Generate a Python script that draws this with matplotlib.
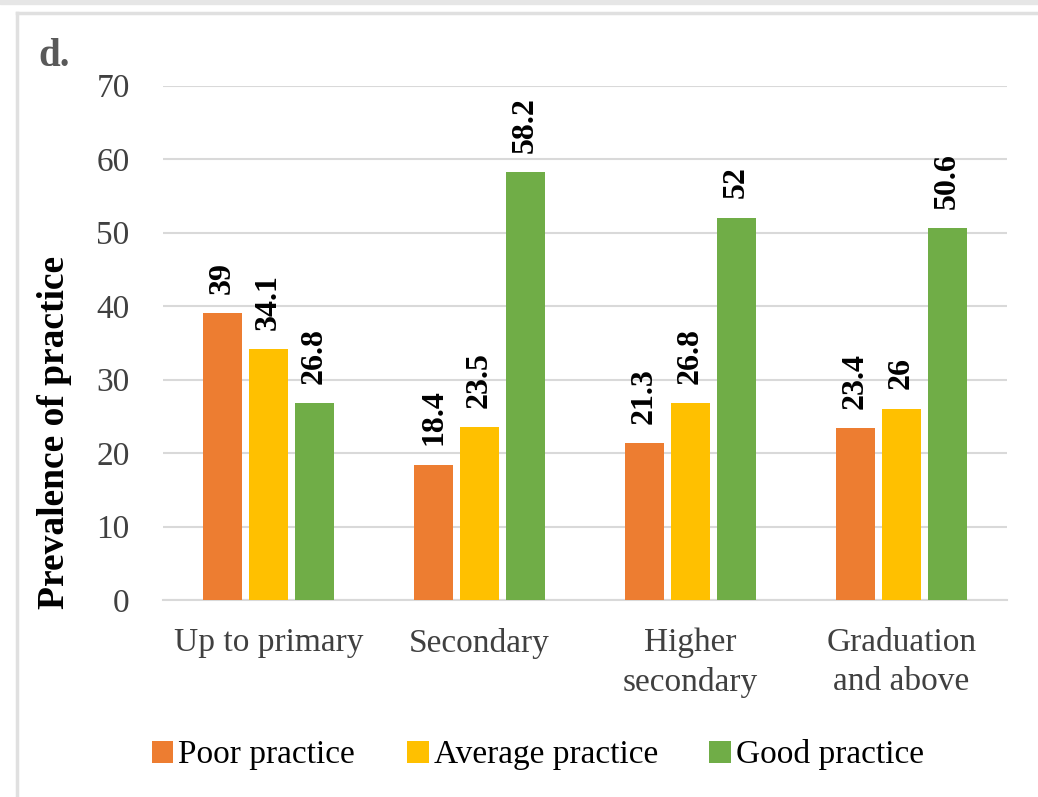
import matplotlib.pyplot as plt
from matplotlib.lines import Line2D
from matplotlib.patches import Rectangle
import numpy as np

categories = ['Up to primary', 'Secondary', 'Higher\nsecondary', 'Graduation\nand above']
poor = [39, 18.4, 21.3, 23.4]
average = [34.1, 23.5, 26.8, 26]
good = [26.8, 58.2, 52, 50.6]
labels = ['39', '18.4', '21.3', '23.4'], ['34.1', '23.5', '26.8', '26'], ['26.8', '58.2', '52', '50.6']
series_names = ['Poor practice', 'Average practice', 'Good practice']
colors = ['#ED7D31', '#FFC000', '#70AD47']

plt.rcParams['font.family'] = ['Liberation Serif', 'DejaVu Serif']

W, H = 1038, 797
fig = plt.figure(figsize=(W / 100, H / 100), dpi=100)
ax = fig.add_axes([163 / W, 1 - 600 / H, (1007 - 163) / W, (600 - 85.5) / H])

x = np.arange(len(categories))
bw = 0.185
step = 0.218
for i, (vals, txt) in enumerate(zip([poor, average, good], labels)):
    pos = x + (i - 1) * step
    bars = ax.bar(pos, vals, width=bw, color=colors[i], label=series_names[i], zorder=3)
    for b, t in zip(bars, txt):
        ax.annotate(t, (b.get_x() + b.get_width() / 2, b.get_height()),
                    xytext=(0, 14), textcoords='offset points',
                    rotation=90, ha='center', va='bottom',
                    fontsize=23, fontweight='bold', color='black')

ax.set_xlim(-0.5, 3.5)
ax.set_ylim(0, 70)
ax.set_yticks(range(0, 71, 10))
ax.set_xticks(x)
ax.set_xticklabels(categories, linespacing=1.35)
ax.yaxis.grid(True, color='#d9d9d9', linewidth=1.5, zorder=0)
for s in ['top', 'right', 'left']:
    ax.spines[s].set_visible(False)
ax.spines['bottom'].set_color('#d9d9d9')
ax.spines['bottom'].set_linewidth(1.5)
ax.tick_params(axis='y', length=0, pad=24, labelsize=24, labelcolor='#404040')
ax.tick_params(axis='x', length=0, pad=20, labelsize=24, labelcolor='#404040')

fig.text(55 / W, 1 - 432 / H, 'Prevalence of practice', rotation=90,
         ha='center', va='center', fontsize=27, fontweight='bold')
fig.text(38 / W, 1 - 57 / H, 'd.', ha='left', va='center',
         fontsize=28, fontweight='bold', color='#595959')

ax.legend(loc='center', bbox_to_anchor=(538 / W, 1 - 755 / H),
          bbox_transform=fig.transFigure, ncol=3, frameon=False,
          fontsize=24, handlelength=0.65, handleheight=0.65,
          handletextpad=0.15, columnspacing=1.55)

# page frame
fig.patches.append(Rectangle((0, 1 - 4 / H), 1, 4 / H, transform=fig.transFigure,
                             color='#e6e6e6', zorder=0))
fig.lines.append(Line2D([17 / W, 1], [1 - 13 / H, 1 - 13 / H], transform=fig.transFigure,
                        color='#e0e0e0', linewidth=2.5))
fig.lines.append(Line2D([17 / W, 17 / W], [0, 1 - 13 / H], transform=fig.transFigure,
                        color='#e0e0e0', linewidth=2.5))

fig.savefig('out.png', dpi=100)
